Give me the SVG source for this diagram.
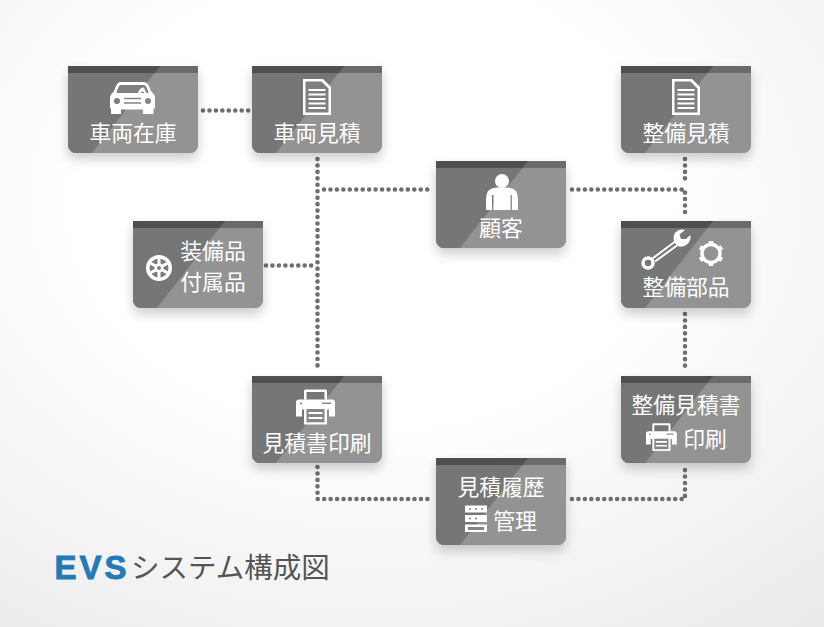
<svg xmlns="http://www.w3.org/2000/svg" width="824" height="627" viewBox="0 0 824 627">
<style>
.lbl{font-family:"Noto Sans CJK JP","Noto Sans",sans-serif;font-size:21.800px;fill:#fff;text-anchor:middle}
.ln{fill:none;stroke:#6e6e6e;stroke-width:4.600;stroke-linecap:round;stroke-dasharray:0 6.45}
.w{fill:#fff}
.ws{fill:none;stroke:#fff}
</style>
<defs>
<radialGradient id="bg" cx="45%" cy="32%" r="85%"><stop offset="0.42" stop-color="#fff"/><stop offset="1" stop-color="#ebebeb"/></radialGradient>
<filter id="sh" x="-20%" y="-20%" width="140%" height="150%"><feDropShadow dx="0" dy="6" stdDeviation="6" flood-color="#000" flood-opacity=".2"/></filter>
<clipPath id="cc"><path d="M0 0H130V79a8 8 0 0 1-8 8H8a8 8 0 0 1-8-8Z"/></clipPath>
<g id="card">
<g filter="url(#sh)"><path d="M0 0H130V79a8 8 0 0 1-8 8H8a8 8 0 0 1-8-8Z" fill="#939393"/></g>
<g clip-path="url(#cc)">
<rect width="130" height="87" fill="#939393"/>
<path d="M0 0H92L24 87H0Z" fill="#767676"/>
<rect width="130" height="7" fill="#6b6b6b"/>
<path d="M0 0H92L86.500 7H0Z" fill="#4f4f4f"/>
</g>
</g>
<g id="doc">
<path d="M0 0H20L28 8V36H0Z" class="w"/>
<path d="M2.500 2.500H18.500L25.500 9.500V33.500H2.500Z" fill="#808080"/>
<path d="M5.500 11H22.500M5.500 15.500H22.500M5.500 20H22.500M5.500 24.500H22.500M5.500 29H22.500" class="ws" stroke-width="2.200"/>
</g>
<g id="printer">
<path d="M8 11V2.500Q8 1 9.500 1H29.500Q31 1 31 2.500V11H28.500V3.500H10.500V11Z" class="w"/>
<path d="M3 11H36Q39 11 39 14V28H33V21H6V28H0V14Q0 11 3 11Z" class="w"/>
<path d="M8 18.500H31V36H8Z" class="w"/>
<path d="M10.500 20.500H28.500V33.800H10.500Z" fill="#868686"/>
<path d="M12.500 24.500H26.500M12.500 29.500H26.500" class="ws" stroke-width="2"/>
<circle cx="5" cy="15" r="1" fill="#777"/>
<rect x="26" y="14" width="9" height="1.500" fill="#888"/>
</g>
</defs>
<rect width="824" height="627" fill="url(#bg)"/>
<g id="connectors">
<path class="ln" d="M203 110.500H249"/>
<path class="ln" d="M317.500 159V371"/>
<path class="ln" d="M324 189.500H430"/>
<path class="ln" d="M266 265.500H312"/>
<path class="ln" d="M572 189.500H685V215"/>
<path class="ln" d="M685 159V183"/>
<path class="ln" d="M685 314V371"/>
<path class="ln" d="M317.500 467V499H432"/>
<path class="ln" d="M572 499H685V467"/>
</g>
<g id="node-sharyo-zaiko" transform="translate(68 66)">
<use href="#card"/>
<path class="w" d="M52 16H76Q80 16 82.500 24L84 26.500Q87 28 87 33V41Q87 43 85.500 43V48H75V43.500H53V48H43V43Q42 42.500 42 41V33Q42 28 45 26.500L46.500 24Q49 16 52 16Z"/>
<path fill="#7f7f7f" d="M52.500 19H76Q78.500 19 80.500 27H48.500Q50.500 19 52.500 19Z"/>
<path class="w" d="M70 27Q71 21.500 76 21.500L78.500 27H76Q75.500 24 72.500 27Z" opacity=".9"/>
<circle cx="49" cy="35" r="3" fill="#7d7d7d"/><circle cx="80" cy="35" r="3" fill="#858585"/>
<path d="M56 32.500H73M56 37H73" stroke="#858585" stroke-width="1.300" fill="none"/>
<text class="lbl" x="65" y="74.500">車両在庫</text>
</g>
<g id="node-sharyo-mitsumori" transform="translate(252 66)">
<use href="#card"/>
<use href="#doc" x="51" y="13"/>
<text class="lbl" x="65" y="74.500">車両見積</text>
</g>
<g id="node-seibi-mitsumori" transform="translate(621 66)">
<use href="#card"/>
<use href="#doc" x="51" y="13"/>
<text class="lbl" x="65" y="74.500">整備見積</text>
</g>
<g id="node-kokyaku" transform="translate(436 161)">
<use href="#card"/>
<circle class="w" cx="66" cy="20" r="7"/>
<path class="w" d="M50 49V38Q50 27 60 26.500H72Q82 27 82 38V49H76V34H74.500V49H57.500V34H56V49Z"/>
<text class="lbl" x="65" y="74.500">顧客</text>
</g>
<g id="node-soubihin" transform="translate(133 221)">
<use href="#card"/>
<circle class="w" cx="26" cy="47" r="13"/>
<circle fill="#7c7c7c" cx="26" cy="47" r="9.500"/>
<path class="ws" stroke-width="3" d="M26 36V58M16.500 41.500L35.500 52.500M16.500 52.500L35.500 41.500"/>
<circle class="w" cx="26" cy="47" r="4.500"/>
<circle fill="#7c7c7c" cx="26" cy="47" r="2"/>
<text class="lbl" x="80" y="38">装備品</text>
<text class="lbl" x="80" y="69">付属品</text>
</g>
<g id="node-seibi-buhin" transform="translate(621 221)">
<use href="#card"/>
<circle class="ws" cx="27" cy="42" r="5" stroke-width="3.500"/>
<path class="ws" stroke-width="2" d="M31.500 37.500L53.500 21M34 40.500L56 24.500"/>
<path class="w" d="M53 21Q51 13 57 9.500Q60 8 64 9L58.500 13.500L60 18L65 18L69.500 14Q70 20 66.500 23Q62 27 56.500 25Z"/>
<circle class="ws" cx="90" cy="32.500" r="9" stroke-width="3.500"/>
<path class="ws" stroke-width="4.500" d="M90 20V23M90 42V45M79 26.200L81.700 27.800M98.300 37.200L101 38.800M79 38.800L81.700 37.200M98.300 27.800L101 26.200"/>
<text class="lbl" x="65" y="73.500">整備部品</text>
</g>
<g id="node-mitsumorisho-insatsu" transform="translate(252 376)">
<use href="#card"/>
<use href="#printer" x="44" y="12.500"/>
<text class="lbl" x="65" y="74.500">見積書印刷</text>
</g>
<g id="node-seibi-mitsumorisho" transform="translate(621 376)">
<use href="#card"/>
<text class="lbl" x="65" y="37">整備見積書</text>
<use href="#printer" transform="translate(25 46.500) scale(.79)"/>
<text class="lbl" x="84" y="71">印刷</text>
</g>
<g id="node-rireki" transform="translate(436 458)">
<use href="#card"/>
<text class="lbl" x="65" y="37">見積履歴</text>
<path class="w" d="M29 47.500H51V54.500H29ZM29 57H51V64H29ZM29 66.500H51V74H29Z"/>
<path fill="#858585" d="M32 69H48V72H32Z"/>
<g fill="#808080"><circle cx="34" cy="51" r="1"/><circle cx="40" cy="51" r="1"/><circle cx="46" cy="51" r="1"/><circle cx="34" cy="60.500" r="1"/><circle cx="40" cy="60.500" r="1"/></g>
<text class="lbl" x="79" y="71">管理</text>
</g>
<g id="title">
<text x="54.500" y="579" font-family="Liberation Sans,Arial,sans-serif" font-weight="700" font-size="33" letter-spacing="3" stroke="#247ab5" stroke-width=".9" fill="#247ab5">EVS</text>
<text x="131" y="578" font-family="Noto Sans CJK JP,Noto Sans,sans-serif" font-size="28.500" fill="#555">システム構成図</text>
</g>
</svg>
